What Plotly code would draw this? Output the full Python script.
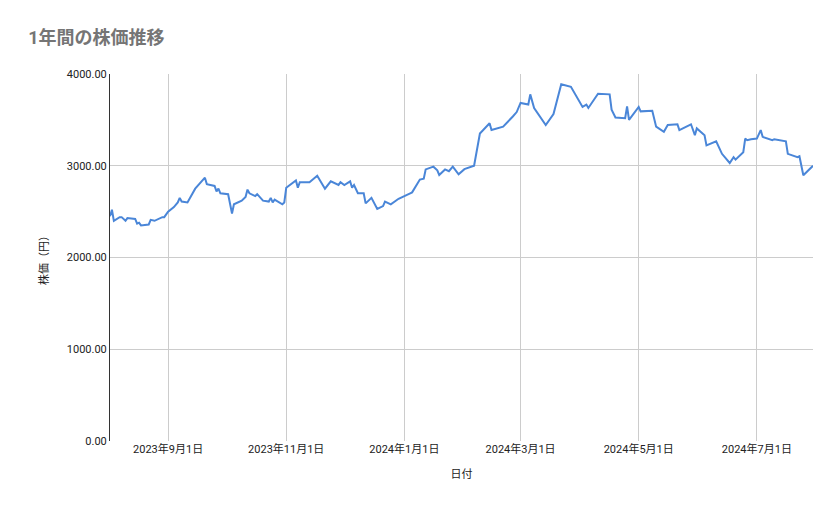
import plotly.graph_objects as go

dates = [
    "2023-08-02", "2023-08-03", "2023-08-04", "2023-08-07", "2023-08-08", "2023-08-10", "2023-08-11",
    "2023-08-15", "2023-08-16", "2023-08-17", "2023-08-18", "2023-08-22", "2023-08-23", "2023-08-25",
    "2023-08-29", "2023-08-30", "2023-09-01", "2023-09-04", "2023-09-06", "2023-09-07", "2023-09-08",
    "2023-09-11", "2023-09-15", "2023-09-18", "2023-09-20", "2023-09-21", "2023-09-25", "2023-09-26",
    "2023-09-27", "2023-09-28", "2023-10-02", "2023-10-04", "2023-10-05", "2023-10-09", "2023-10-11",
    "2023-10-12", "2023-10-13", "2023-10-16", "2023-10-17", "2023-10-20", "2023-10-23", "2023-10-24",
    "2023-10-25", "2023-10-26", "2023-10-30", "2023-10-31", "2023-11-01", "2023-11-06", "2023-11-07",
    "2023-11-08", "2023-11-13", "2023-11-17", "2023-11-21", "2023-11-24", "2023-11-28", "2023-11-29",
    "2023-12-01", "2023-12-04", "2023-12-05", "2023-12-06", "2023-12-08", "2023-12-11", "2023-12-12",
    "2023-12-15", "2023-12-18", "2023-12-21", "2023-12-22", "2023-12-25", "2023-12-27", "2023-12-29",
    "2024-01-04", "2024-01-05", "2024-01-09", "2024-01-11", "2024-01-12", "2024-01-16", "2024-01-18",
    "2024-01-19", "2024-01-22", "2024-01-24", "2024-01-26", "2024-01-29", "2024-02-01", "2024-02-06",
    "2024-02-09", "2024-02-14", "2024-02-15", "2024-02-21", "2024-02-26", "2024-02-28", "2024-03-01",
    "2024-03-05", "2024-03-06", "2024-03-08", "2024-03-14", "2024-03-18", "2024-03-22", "2024-03-27",
    "2024-04-02", "2024-04-04", "2024-04-05", "2024-04-10", "2024-04-16", "2024-04-17", "2024-04-19",
    "2024-04-24", "2024-04-25", "2024-04-26", "2024-05-01", "2024-05-02", "2024-05-08", "2024-05-10",
    "2024-05-14", "2024-05-16", "2024-05-21", "2024-05-22", "2024-05-28", "2024-05-30", "2024-05-31",
    "2024-06-04", "2024-06-05", "2024-06-10", "2024-06-13", "2024-06-17", "2024-06-19", "2024-06-20",
    "2024-06-24", "2024-06-25", "2024-06-26", "2024-06-28", "2024-07-01", "2024-07-03", "2024-07-04",
    "2024-07-09", "2024-07-10", "2024-07-16", "2024-07-17", "2024-07-22", "2024-07-23", "2024-07-25",
    "2024-07-30",
]
prices = [
    2450, 2520, 2400, 2440, 2440, 2400, 2430,
    2420, 2370, 2380, 2350, 2360, 2410, 2400,
    2440, 2440, 2500, 2550, 2600, 2650, 2610,
    2600, 2750, 2820, 2870, 2800, 2780, 2720,
    2750, 2700, 2690, 2480, 2580, 2620, 2660,
    2740, 2700, 2670, 2690, 2620, 2610, 2650,
    2600, 2630, 2580, 2600, 2760, 2840, 2760,
    2820, 2820, 2890, 2750, 2830, 2790, 2820,
    2790, 2830, 2760, 2790, 2700, 2700, 2590,
    2650, 2530, 2560, 2610, 2580, 2610, 2640,
    2700, 2710, 2850, 2860, 2960, 2990, 2950,
    2900, 2960, 2940, 2990, 2907, 2963, 3000,
    3352, 3463, 3389, 3426, 3537, 3585, 3685,
    3667, 3778, 3630, 3444, 3563, 3889, 3860,
    3641, 3667, 3630, 3785, 3778, 3611, 3526,
    3519, 3648, 3500, 3641, 3593, 3600, 3426,
    3370, 3444, 3452, 3389, 3452, 3333, 3407,
    3333, 3222, 3267, 3130, 3030, 3093, 3067,
    3148, 3296, 3278, 3289, 3296, 3389, 3315,
    3278, 3289, 3267, 3130, 3093, 3104, 2896,
    3000,
]
tick_dates = ["2023-09-01", "2023-11-01", "2024-01-01", "2024-03-01", "2024-05-01", "2024-07-01"]
tick_labels = ["2023年9月1日", "2023年11月1日", "2024年1月1日", "2024年3月1日", "2024年5月1日", "2024年7月1日"]

font = "Roboto, 'Noto Sans CJK JP', sans-serif"

fig = go.Figure(go.Scatter(
    x=dates, y=prices, mode="lines",
    line=dict(color="#4a86d8", width=2),
))

fig.update_layout(
    width=839, height=519,
    paper_bgcolor="white", plot_bgcolor="white",
    margin=dict(l=102, r=34, t=66, b=86),
    font=dict(family=font, size=11, color="#222"),
    title=dict(text="<b>1年間の株価推移</b>", x=0.024, xanchor="left", y=0.942, yanchor="middle",
               font=dict(size=18, color="#757575")),
    showlegend=False,
)
fig.update_xaxes(
    range=["2023-08-02", "2024-07-30"],
    tickvals=tick_dates, ticktext=tick_labels,
    showgrid=True, gridcolor="#cccccc", showline=False, zeroline=False,
    title=dict(text="日付", font=dict(size=11)),
)
fig.update_yaxes(
    range=[0, 4000], tickvals=[0, 1000, 2000, 3000, 4000], tickformat=".2f",
    showgrid=True, gridcolor="#cccccc", zeroline=False,
    showline=True, linecolor="#333",
    title=dict(text="株価（円）", font=dict(size=11)),
)

fig.write_html("out.html")
